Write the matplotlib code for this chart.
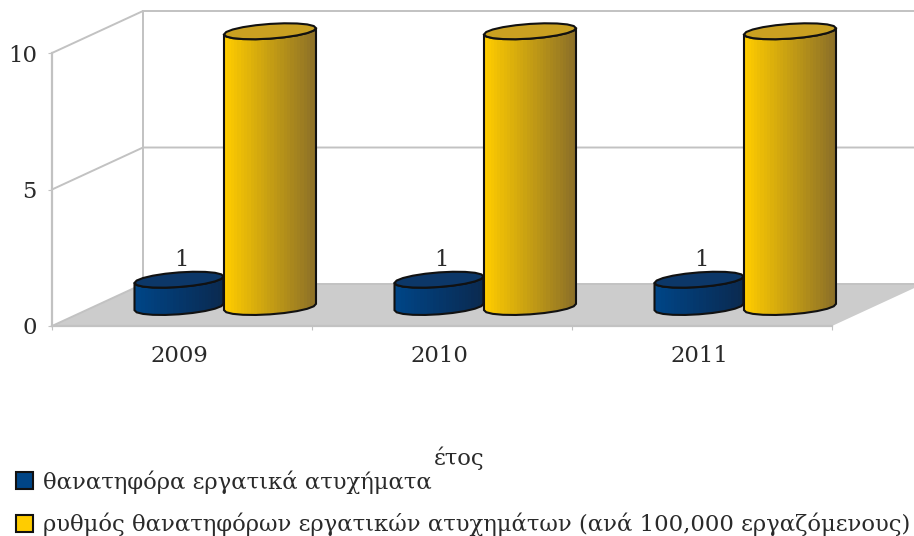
import numpy as np
import matplotlib
matplotlib.use("Agg")
import matplotlib.pyplot as plt
from matplotlib.patches import Polygon, Patch
from matplotlib.transforms import ScaledTranslation

# ---- data ----
years = ["2009", "2010", "2011"]
fatal_accidents = [1, 1, 1]
fatal_rate = [10.1, 10.1, 10.1]
y_ticks = [0, 5, 10]
label_series_1 = "θανατηφόρα εργατικά ατυχήματα"
label_series_2 = "ρυθμός θανατηφόρων εργατικών ατυχημάτων (ανά 100,000 εργαζόμενους)"
x_title = "έτος"

# ---- layout (pixels) ----
W, H = 914, 536
L, R, T, B = 52, 832, 53, 326
DX, DY = 91, 42
FONT = "DejaVu Serif"
TXT = "#2a2a2a"
GRID = "#c2c2c2"
FS = 16.35

fig = plt.figure(figsize=(W / 100, H / 100), dpi=100)
ax = fig.add_axes([L / W, 1 - B / H, (R - L) / W, (B - T) / H])
ax.set_xlim(0, len(years))
ax.set_ylim(0, max(y_ticks))
px = len(years) / (R - L)      # data units per pixel, x
py = max(y_ticks) / (B - T)    # data units per pixel, y
ddx, ddy = DX * px, DY * py
xmax = len(years)

# floor
ax.add_patch(Polygon([(0, 0), (xmax, 0), (xmax + ddx, ddy), (ddx, ddy)],
                     closed=True, fc="#cccccc", ec="none", clip_on=False, zorder=1))
# walls and gridlines
for v in y_ticks:
    ax.plot([0, ddx, xmax + ddx], [v, v + ddy, v + ddy], color=GRID, lw=1.4,
            clip_on=False, zorder=1.5)
ax.plot([ddx, ddx], [0 + ddy, max(y_ticks) + ddy], color=GRID, lw=1.4,
        clip_on=False, zorder=1.5)


def cylinder(cx, value, half_w, c_left, c_right, c_top, z):
    """Sheared circle on the floor, extruded up to `value`."""
    b = 8.0 * py
    s = 18.0 * px
    a = np.sqrt((half_w * px) ** 2 - s ** 2)
    base = 19 * py
    t0 = np.arctan2(s, a)
    n = 20
    t = t0 + 2 * np.pi * np.arange(n + 1) / n
    ex = cx + a * np.cos(t) + s * np.sin(t)
    ey = b * np.sin(t)
    # front half: from the left extreme (index n/2) to the right extreme (index n)
    fx, fy = ex[n // 2:], ey[n // 2:]
    body = np.r_[np.c_[fx, fy + base], np.c_[fx[::-1], fy[::-1] + base + value]]
    poly = Polygon(body, closed=True, fc="none", ec="none", clip_on=False, zorder=z)
    ax.add_patch(poly)
    grad = np.linspace(0, 1, 28)[None, :, None]
    c0 = np.array(matplotlib.colors.to_rgb(c_left))
    c1 = np.array(matplotlib.colors.to_rgb(c_right))
    img = c0 + (c1 - c0) * grad
    im = ax.imshow(img, extent=[fx.min(), fx.max(), fy.min() + base, fy.max() + base + value],
                   aspect="auto", interpolation="nearest", zorder=z)
    im.set_clip_box(fig.bbox)
    im.set_clip_path(poly)
    ax.add_patch(Polygon(body, closed=True, fc="none", ec="#111111", lw=1.5, clip_on=False,
                         joinstyle="miter", zorder=z + 0.1))
    ax.add_patch(Polygon(np.c_[ex[:-1], ey[:-1] + base + value], closed=True, fc=c_top,
                         ec="#111111", lw=1.5, clip_on=False, joinstyle="miter", zorder=z + 0.2))


for i, (v1, v2) in enumerate(zip(fatal_accidents, fatal_rate)):
    centre = i + 0.5
    cylinder(centre - 3 * px, v1, 44.5, "#004586", "#0b2a50", "#0c3768", 3 + i)
    cylinder(centre + 88 * px, v2, 46, "#ffcc00", "#8c7028", "#c9a021", 3.5 + i)
    ax.text(centre - 1 * px, v1 + 28 * py, str(v1), family=FONT, fontsize=FS,
            color=TXT, ha="center", va="bottom", zorder=10, clip_on=False)

ax.set_xlim(0, xmax)
ax.set_ylim(0, max(y_ticks))

# axes and ticks
for name, sp in ax.spines.items():
    sp.set_visible(name in ("left", "bottom"))
    sp.set_color(GRID)
    sp.set_linewidth(1.6)
    sp.set_zorder(2)
ax.patch.set_visible(False)
ax.set_yticks(y_ticks)
ax.set_yticklabels([str(v) for v in y_ticks], family=FONT, fontsize=FS, color=TXT)
ax.tick_params(axis="y", length=3, color=GRID, pad=8)
ax.set_xticks(np.arange(xmax + 1))
ax.set_xticklabels([])
ax.tick_params(axis="x", which="major", length=3, color=GRID)
ax.set_xticks(np.arange(xmax) + 0.5, minor=True)
ax.set_xticklabels(years, minor=True, family=FONT, fontsize=FS, color=TXT)
ax.tick_params(axis="x", which="minor", length=0, pad=14)
shift = ScaledTranslation(-3 / 100, 0, fig.dpi_scale_trans)
for lbl in ax.get_xticklabels(minor=True):
    lbl.set_transform(lbl.get_transform() + shift)
ax.set_xlabel(x_title, family=FONT, fontsize=FS, color=TXT)
ax.xaxis.set_label_coords(459 / W, 1 - 458 / H, transform=fig.transFigure)
ax.xaxis.label.set_va("center")

# legend
handles = [Patch(fc="#004586", ec="#111111", lw=1.5), Patch(fc="#ffcc00", ec="#111111", lw=1.5)]
fig.legend(handles, [label_series_1, label_series_2], loc="lower left",
           bbox_to_anchor=(10.5 / W, -6 / H), bbox_transform=fig.transFigure,
           frameon=False, prop={"family": FONT, "size": FS},
           labelcolor=TXT, handlelength=0.75, handleheight=0.75, handletextpad=0.45,
           labelspacing=0.85, borderpad=0.0, borderaxespad=0.25)

fig.savefig("out.png", dpi=100)
